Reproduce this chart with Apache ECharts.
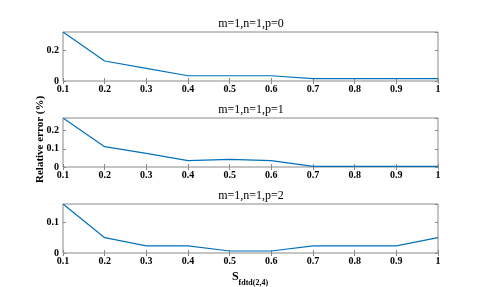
<!DOCTYPE html>
<html><head><meta charset="utf-8">
<script src="https://cdn.jsdelivr.net/npm/echarts@6/dist/echarts.min.js"></script>
<style>html,body{margin:0;padding:0;background:#fff}#c{width:485px;height:287px}</style>
</head><body><div id="c"></div>
<script>
const xValues = [0.1,0.2,0.3,0.4,0.5,0.6,0.7,0.8,0.9,1.0];
const titles = ['m=1,n=1,p=0','m=1,n=1,p=1','m=1,n=1,p=2'];
const errP0 = [0.316,0.129,0.082,0.034,0.034,0.034,0.015,0.015,0.015,0.015];
const errP1 = [0.270,0.112,0.075,0.035,0.042,0.035,0.003,0.003,0.003,0.003];
const errP2 = [0.160,0.050,0.023,0.023,0.0065,0.0065,0.023,0.023,0.023,0.050];
const yMax = [0.316,0.270,0.160];
const yInterval = [0.2,0.1,0.1];
const yLabel = 'Relative error (%)';
const series = [errP0,errP1,errP2];

const tops = [32,118,204];
const H = 49;
const frame = '#8a8a8a';
const font = '"Liberation Serif","Times New Roman",serif';
const grids=[],xAxes=[],yAxes=[],ser=[],titleArr=[];
series.forEach((d,i)=>{
  grids.push({left:63,right:47,top:tops[i],height:H,show:true,borderColor:frame,borderWidth:1,backgroundColor:'#fff'});
  const xb = {type:'value',gridIndex:i,min:0.1,max:1,interval:0.1,
    axisLine:{show:false},splitLine:{show:false},
    axisTick:{show:true,inside:true,length:3,lineStyle:{color:frame}}};
  xAxes.push(Object.assign({},xb,{position:'bottom',
    axisLabel:{show:true,margin:3,fontFamily:font,fontWeight:'bold',fontSize:10,color:'#000',
      formatter:v=>String(+v.toFixed(1))}}));
  xAxes.push(Object.assign({},xb,{position:'top',axisLabel:{show:false}}));
  const yb = {type:'value',gridIndex:i,min:0,max:yMax[i],interval:yInterval[i],
    axisLine:{show:false},splitLine:{show:false},
    axisTick:{show:true,inside:true,length:3,lineStyle:{color:frame}}};
  yAxes.push(Object.assign({},yb,{position:'left',
    axisLabel:{show:true,margin:4,showMaxLabel:false,fontFamily:font,fontWeight:'bold',fontSize:10,color:'#000',
      formatter:v=>String(+v.toFixed(2))}}));
  yAxes.push(Object.assign({},yb,{position:'right',axisLabel:{show:false}}));
  ser.push({type:'line',xAxisIndex:2*i,yAxisIndex:2*i,data:xValues.map((x,k)=>[x,d[k]]),
    showSymbol:false,symbol:'none',lineStyle:{color:'#0072BD',width:1.2},animation:false});
  titleArr.push({text:titles[i],left:251,top:tops[i]-14,textAlign:'center',padding:0,
    textStyle:{fontFamily:font,fontWeight:'normal',fontSize:12,color:'#000'}});
});
const chart = echarts.init(document.getElementById('c'),null,{renderer:'canvas'});
chart.setOption({
  animation:false,
  title:titleArr,
  grid:grids,xAxis:xAxes,yAxis:yAxes,series:ser,
  graphic:[
    {type:'text',rotation:Math.PI/2,
     style:{text:yLabel,fontFamily:font,fontWeight:'bold',fontSize:11,fill:'#000'},
     x:35,y:183,origin:[0,0]},
    {type:'text',x:250,y:271,
     style:{text:'{s|S}{b|fdtd(2,4)}',align:'center',
       rich:{s:{fontFamily:font,fontWeight:'bold',fontSize:12,fill:'#000',verticalAlign:'bottom'},
             b:{fontFamily:font,fontWeight:'bold',fontSize:8,fill:'#000',verticalAlign:'bottom',padding:[0,0,-4,0]}}}}
  ]
});
</script></body></html>
